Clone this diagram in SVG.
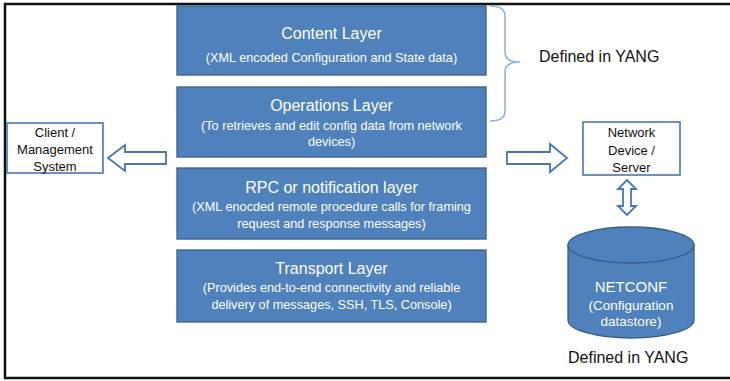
<svg xmlns="http://www.w3.org/2000/svg" width="730" height="381" viewBox="0 0 730 381">
  <style>
    .layer { fill: #4f81bd; stroke: #385d8a; stroke-width: 1.3; }
    .ttl { font-family: "Liberation Sans", Arial, sans-serif; font-size: 16px; fill: #ffffff; text-anchor: middle; }
    .sub { font-family: "Liberation Sans", Arial, sans-serif; font-size: 12.7px; fill: #ffffff; text-anchor: middle; }
    .box { fill: #ffffff; stroke: #4a76b0; stroke-width: 1.6; }
    .lbl { font-family: "Liberation Sans", Arial, sans-serif; font-size: 13px; fill: #111111; text-anchor: middle; }
    .note { font-family: "Liberation Sans", Arial, sans-serif; font-size: 16px; fill: #111111; text-anchor: start; }
    .arrow { fill: #ffffff; stroke: #4a76b0; stroke-width: 1.8; stroke-linejoin: miter; }
    .brace { fill: none; stroke: #8aaedc; stroke-width: 1.5; }
    .frame { stroke: #111111; stroke-width: 2.5; fill: none; }
  </style>

  <rect x="0" y="0" width="730" height="381" fill="#ffffff"/>

  <!-- outer frame -->
  <path class="frame" d="M730,4 L5,4 L5,378 L730,378"/>

  <!-- protocol stack -->
  <g id="content-layer">
    <rect class="layer" x="177" y="6" width="309" height="69"/>
    <text class="ttl" x="331.5" y="39">Content Layer</text>
    <text class="sub" x="331.5" y="62">(XML encoded Configuration and State data)</text>
  </g>
  <g id="operations-layer">
    <rect class="layer" x="177" y="87" width="309" height="70"/>
    <text class="ttl" x="331.5" y="111">Operations Layer</text>
    <text class="sub" x="331.5" y="130">(To retrieves and edit config data from network</text>
    <text class="sub" x="331.5" y="146">devices)</text>
  </g>
  <g id="rpc-layer">
    <rect class="layer" x="177" y="168" width="309" height="71"/>
    <text class="ttl" x="331.5" y="193">RPC or notification layer</text>
    <text class="sub" x="331.5" y="211">(XML enocded remote procedure calls for framing</text>
    <text class="sub" x="331.5" y="228">request and response messages)</text>
  </g>
  <g id="transport-layer">
    <rect class="layer" x="177" y="250" width="309" height="72"/>
    <text class="ttl" x="331.5" y="274">Transport Layer</text>
    <text class="sub" x="331.5" y="292">(Provides end-to-end connectivity and reliable</text>
    <text class="sub" x="331.5" y="309">delivery of messages, SSH, TLS, Console)</text>
  </g>

  <!-- client -->
  <g id="client">
    <rect class="box" x="7" y="123" width="96" height="50"/>
    <text class="lbl" x="55" y="137">Client /</text>
    <text class="lbl" x="55" y="154">Management</text>
    <text class="lbl" x="55" y="171">System</text>
  </g>

  <!-- network device -->
  <g id="network-device">
    <rect class="box" x="583" y="122" width="97" height="53"/>
    <text class="lbl" x="631.5" y="137">Network</text>
    <text class="lbl" x="631.5" y="155">Device /</text>
    <text class="lbl" x="631.5" y="172">Server</text>
  </g>

  <!-- datastore -->
  <g id="datastore">
    <path class="layer" d="M568,245 L568,320 A63,18 0 0 0 694,320 L694,245 Z"/>
    <ellipse class="layer" cx="631" cy="245" rx="63" ry="18"/>
    <text class="ttl" x="631" y="292" style="font-size:15px">NETCONF</text>
    <text class="sub" x="631" y="310" style="font-size:13.5px">(Configuration</text>
    <text class="sub" x="631" y="326" style="font-size:13.5px">datastore)</text>
  </g>

  <!-- annotations -->
  <g id="yang-top">
    <path class="brace" d="M490,6 Q505,6 505,16 L505,52 Q505,62 520,62 Q505,62 505,72 L505,111 Q505,121 490,121"/>
    <text class="note" x="539" y="62">Defined in YANG</text>
  </g>
  <g id="yang-bottom">
    <text class="note" x="568" y="363">Defined in YANG</text>
  </g>

  <!-- connectors -->
  <g id="connectors">
    <polygon class="arrow" points="108,158 125,145 125,152 166,152 166,164 125,164 125,171"/>
    <polygon class="arrow" points="567,158 550,144 550,152 507,152 507,164 550,164 550,172"/>
    <polygon class="arrow" points="627,180 636,189 631,189 631,206 636,206 627,215 618,206 623,206 623,189 618,189"/>
  </g>
</svg>
